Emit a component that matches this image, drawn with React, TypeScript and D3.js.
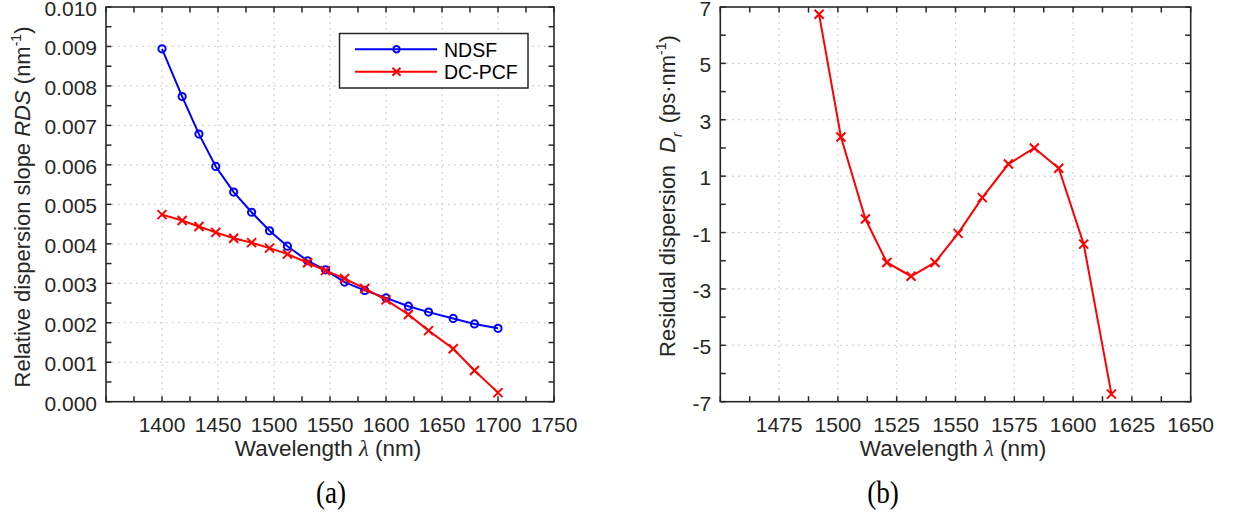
import React from "react";
import * as d3 from "d3";

// ---- data (a) ----
const lambdaA = [1400, 1418, 1433, 1448, 1464, 1480, 1496, 1512, 1530, 1546, 1563, 1581, 1600, 1620, 1638, 1660, 1679, 1700];
const rdsNDSF = [0.00894, 0.00773, 0.00678, 0.00596, 0.00531, 0.0048, 0.00433, 0.00394, 0.00357, 0.00334, 0.00303, 0.00282, 0.00263, 0.00242, 0.00227, 0.00211, 0.00197, 0.00186];
const rdsDCPCF = [0.00474, 0.00459, 0.00444, 0.00429, 0.00414, 0.00403, 0.00389, 0.00374, 0.00352, 0.00332, 0.00312, 0.00287, 0.00258, 0.00221, 0.0018, 0.00134, 0.00079, 0.00023];
const xTicksA = [1400, 1450, 1500, 1550, 1600, 1650, 1700, 1750];
const yTicksA = [0, 0.001, 0.002, 0.003, 0.004, 0.005, 0.006, 0.007, 0.008, 0.009, 0.01];
const seriesNames = ["NDSF", "DC-PCF"];

// ---- data (b) ----
const lambdaB = [1492, 1501.3, 1511.7, 1520.8, 1531.1, 1541.3, 1551.1, 1561.4, 1572.5, 1583.5, 1593.9, 1604.5, 1616.3];
const residualD = [6.74, 2.39, -0.52, -2.06, -2.55, -2.06, -1.03, 0.24, 1.43, 2.0, 1.28, -1.41, -6.73];
const xTicksB = [1475, 1500, 1525, 1550, 1575, 1600, 1625, 1650];
const yTicksB = [-7, -5, -3, -1, 1, 3, 5, 7];

const AX = "#262626";
const GRID = "#c8c8c8";
const FONT = "'Liberation Sans', Arial, sans-serif";
const TICK = 5.5;
const TFS = 21;
const LFS = 22.5;

function Cross({ x, y, s, color }: { x: number; y: number; s: number; color: string }) {
  return (
    <path d={`M${x - s},${y - s}L${x + s},${y + s}M${x - s},${y + s}L${x + s},${y - s}`} stroke={color} strokeWidth={2} fill="none" />
  );
}

type AxesProps = {
  x: d3.ScaleLinear<number, number>;
  y: d3.ScaleLinear<number, number>;
  xMinor: number[];
  yMinor: number[];
  xGrid: number[];
  yGrid: number[];
  xLabels: number[];
  yLabels: number[];
  yFmt: (v: number) => string;
};

function Axes(p: AxesProps) {
  const [x0, x1] = p.x.range();
  const [y0, y1] = p.y.range(); // y0 bottom, y1 top
  return (
    <g>
      {p.xGrid.map((v) => (
        <line key={"xg" + v} x1={p.x(v)} x2={p.x(v)} y1={y0} y2={y1} stroke={GRID} strokeWidth={1.2} strokeDasharray="1.5,4.5" />
      ))}
      {p.yGrid.map((v) => (
        <line key={"yg" + v} x1={x0} x2={x1} y1={p.y(v)} y2={p.y(v)} stroke={GRID} strokeWidth={1.2} strokeDasharray="1.5,4.5" />
      ))}
      {p.xMinor.map((v) => (
        <g key={"xt" + v}>
          <line x1={p.x(v)} x2={p.x(v)} y1={y0} y2={y0 - TICK} stroke={AX} strokeWidth={1.5} />
          <line x1={p.x(v)} x2={p.x(v)} y1={y1} y2={y1 + TICK} stroke={AX} strokeWidth={1.5} />
        </g>
      ))}
      {p.yMinor.map((v) => (
        <g key={"yt" + v}>
          <line x1={x0} x2={x0 + TICK} y1={p.y(v)} y2={p.y(v)} stroke={AX} strokeWidth={1.5} />
          <line x1={x1} x2={x1 - TICK} y1={p.y(v)} y2={p.y(v)} stroke={AX} strokeWidth={1.5} />
        </g>
      ))}
      <rect x={x0} y={y1} width={x1 - x0} height={y0 - y1} fill="none" stroke={AX} strokeWidth={1.6} />
      {p.xLabels.map((v) => (
        <text key={"xl" + v} x={p.x(v)} y={y0 + 30} textAnchor="middle" fontFamily={FONT} fontSize={TFS} fill={AX}>
          {v}
        </text>
      ))}
      {p.yLabels.map((v) => (
        <text key={"yl" + v} x={x0 - 9} y={p.y(v) + 9} textAnchor="end" fontFamily={FONT} fontSize={TFS} fill={AX}>
          {p.yFmt(v)}
        </text>
      ))}
    </g>
  );
}

export default function App() {
  // panel (a)
  const xA = d3.scaleLinear().domain([1350, 1750]).range([106, 554]);
  const yA = d3.scaleLinear().domain([0, 0.01]).range([401.7, 7]);
  const lineA = d3
    .line<number>()
    .x((_, i) => xA(lambdaA[i]))
    .y((d) => yA(d));

  // panel (b)
  const xB = d3.scaleLinear().domain([1450, 1650]).range([720.3, 1190.7]);
  const yB = d3.scaleLinear().domain([-7, 7]).range([401.7, 7]);
  const lineB = d3
    .line<number>()
    .x((_, i) => xB(lambdaB[i]))
    .y((d) => yB(d));

  const minorA = d3.range(1350, 1750.1, 25);
  const minorAy = d3.range(0, 0.01001, 0.0005);
  const minorB = d3.range(1450, 1650.1, 12.5);
  const minorBy = d3.range(-7, 7.1, 1);

  return (
    <svg width={1238} height={518} style={{ position: "absolute", left: 0, top: 0, background: "#fff" }}>
      <rect width={1238} height={518} fill="#fff" />
      <Axes
        x={xA}
        y={yA}
        xMinor={minorA}
        yMinor={minorAy}
        xGrid={xTicksA.filter((v) => v < 1750)}
        yGrid={yTicksA.filter((v) => v > 0 && v < 0.01)}
        xLabels={xTicksA}
        yLabels={yTicksA}
        yFmt={(v) => v.toFixed(3)}
      />
      <path d={lineA(rdsNDSF) || ""} fill="none" stroke="#0000ff" strokeWidth={2} />
      {rdsNDSF.map((v, i) => (
        <circle key={"n" + i} cx={xA(lambdaA[i])} cy={yA(v)} r={3.6} fill="none" stroke="#0000ff" strokeWidth={2} />
      ))}
      <path d={lineA(rdsDCPCF) || ""} fill="none" stroke="#ff0000" strokeWidth={2} />
      {rdsDCPCF.map((v, i) => (
        <Cross key={"d" + i} x={xA(lambdaA[i])} y={yA(v)} s={4.5} color="#ff0000" />
      ))}

      {/* legend */}
      <rect x={339.5} y={33.5} width={188.5} height={54.5} fill="#fff" stroke={AX} strokeWidth={1.5} />
      <line x1={355} x2={437} y1={49.3} y2={49.3} stroke="#0000ff" strokeWidth={2} />
      <circle cx={396.5} cy={49.3} r={3.2} fill="none" stroke="#0000ff" strokeWidth={2} />
      <text x={444} y={56.5} fontFamily={FONT} fontSize={19.5} fill="#000">{seriesNames[0]}</text>
      <line x1={355} x2={437} y1={71.7} y2={71.7} stroke="#ff0000" strokeWidth={2} />
      <Cross x={396.5} y={71.7} s={4} color="#ff0000" />
      <text x={444} y={79} fontFamily={FONT} fontSize={19.5} fill="#000">{seriesNames[1]}</text>

      {/* labels (a) */}
      <text x={328} y={456} textAnchor="middle" fontFamily={FONT} fontSize={LFS} fill={AX}>
        Wavelength <tspan fontFamily="'Liberation Serif', serif" fontStyle="italic">λ</tspan> (nm)
      </text>
      <text transform="translate(30,207) rotate(-90)" textAnchor="middle" fontFamily={FONT} fontSize={22} fill={AX}>
        Relative dispersion slope <tspan fontStyle="italic">RDS</tspan> (nm
        <tspan fontSize={14} dy={-9}>-1</tspan>
        <tspan dy={9}>)</tspan>
      </text>
      <text transform="translate(331,503) scale(0.85,1)" textAnchor="middle" fontFamily="'Liberation Serif', 'DejaVu Serif', serif" fontSize={32} fill="#000">
        (a)
      </text>

      {/* panel (b) */}
      <Axes
        x={xB}
        y={yB}
        xMinor={minorB}
        yMinor={minorBy}
        xGrid={xTicksB.filter((v) => v < 1650)}
        yGrid={yTicksB.filter((v) => v > -7 && v < 7)}
        xLabels={xTicksB}
        yLabels={yTicksB}
        yFmt={(v) => String(v)}
      />
      <path d={lineB(residualD) || ""} fill="none" stroke="#ff0000" strokeWidth={2} />
      {residualD.map((v, i) => (
        <Cross key={"r" + i} x={xB(lambdaB[i])} y={yB(v)} s={4.5} color="#ff0000" />
      ))}
      <text x={953} y={456} textAnchor="middle" fontFamily={FONT} fontSize={LFS} fill={AX}>
        Wavelength <tspan fontFamily="'Liberation Serif', serif" fontStyle="italic">λ</tspan> (nm)
      </text>
      <text transform="translate(675,196) rotate(-90)" textAnchor="middle" fontFamily={FONT} fontSize={22} fill={AX}>
        Residual dispersion<tspan fontStyle="italic" dx={12}>D</tspan>
        <tspan fontStyle="italic" fontSize={14} dy={7}>r</tspan>
        <tspan dy={-7} dx={9}>(ps·nm</tspan>
        <tspan fontSize={14} dy={-9}>-1</tspan>
        <tspan dy={9}>)</tspan>
      </text>
      <text transform="translate(883,503) scale(0.85,1)" textAnchor="middle" fontFamily="'Liberation Serif', 'DejaVu Serif', serif" fontSize={32} fill="#000">
        (b)
      </text>
    </svg>
  );
}
